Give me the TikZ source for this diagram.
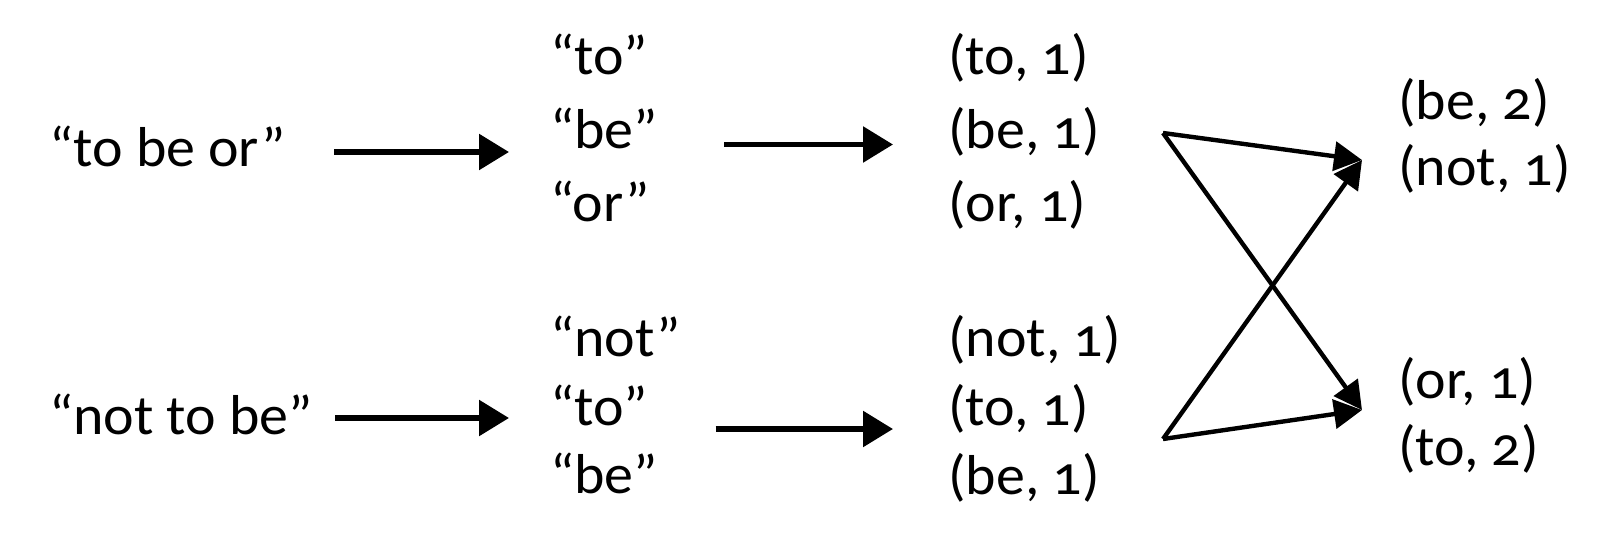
\documentclass[tikz,border=0pt]{standalone}
\usepackage{fontspec}
\setmainfont[Numbers=OldStyle,FakeStretch=1.03]{Carlito}
\usetikzlibrary{arrows.meta, positioning}

\begin{document}
\begin{tikzpicture}[node distance=1.47cm, on grid,
  word/.style={inner sep=0pt, anchor=base west, font=\fontsize{32}{32}\selectfont},
  flow/.style={-{Triangle[length=0.6cm, width=0.7cm]}, line width=3.2pt},
  cross/.style={-{Triangle[length=0.56cm, width=0.58cm]}, line width=2.5pt}]

            \useasboundingbox (0,0) rectangle (31.96,10.82);

            % input lines
            \node[word] (s1) at (0.98,7.48) {“to be or”};
            \node[word] (s2) at (0.98,2.14) {“not to be”};

            % split words
            \node[word] (w1) at (11.0,9.32) {“to”};
            \node[word, below=of w1.base west, anchor=base west] (w2) {“be”};
            \node[word, below=of w2.base west, anchor=base west] (w3) {“or”};
            \node[word] (w4) at (11.0,3.70) {“not”};
            \node[word, below=1.38cm of w4.base west, anchor=base west] (w5) {“to”};
            \node[word, below=1.36cm of w5.base west, anchor=base west] (w6) {“be”};

            % mapped pairs
            \node[word] (p1) at (18.96,9.32) {(to, 1)};
            \node[word, below=of p1.base west, anchor=base west] (p2) {(be, 1)};
            \node[word, below=of p2.base west, anchor=base west] (p3) {(or, 1)};
            \node[word] (p4) at (18.96,3.70) {(not, 1)};
            \node[word, below=1.38cm of p4.base west, anchor=base west] (p5) {(to, 1)};
            \node[word, below=1.38cm of p5.base west, anchor=base west] (p6) {(be, 1)};

            % reduced pairs
            \node[word] (r1) at (27.96,8.42) {(be, 2)};
            \node[word, below=1.32cm of r1.base west, anchor=base west] (r2) {(not, 1)};
            \node[word] (r3) at (27.96,2.86) {(or, 1)};
            \node[word, below=1.34cm of r3.base west, anchor=base west] (r4) {(to, 2)};

            \coordinate (ct) at (23.26,8.16);
            \coordinate (cb) at (23.26,2.04);
            \coordinate (et) at (27.24,7.62);
            \coordinate (eb) at (27.24,2.62);

            \draw[flow, shorten <=0.96cm, shorten >=0.82cm] ([yshift=0.3cm]s1.base east) -- ([yshift=0.3cm]s1.base east -| w2.west);
            \draw[flow, shorten <=0.44cm, shorten >=0.82cm] ([yshift=0.32cm]s2.base east) -- ([yshift=0.32cm]s2.base east -| w5.west);
            \draw[flow, shorten <=1.32cm, shorten >=1.1cm] ([yshift=0.08cm]w2.base east) -- ([yshift=0.08cm]w2.base east -| p2.west);
            \draw[flow, shorten <=1.34cm, shorten >=1.1cm] ([yshift=-0.08cm]w5.base east) -- ([yshift=-0.08cm]w5.base east -| p5.west);

            \draw[cross] (ct) -- (et);
            \draw[cross] (ct) -- (eb);
            \draw[cross] (cb) -- (et);
            \draw[cross] (cb) -- (eb);

        \end{tikzpicture}
\end{document}
